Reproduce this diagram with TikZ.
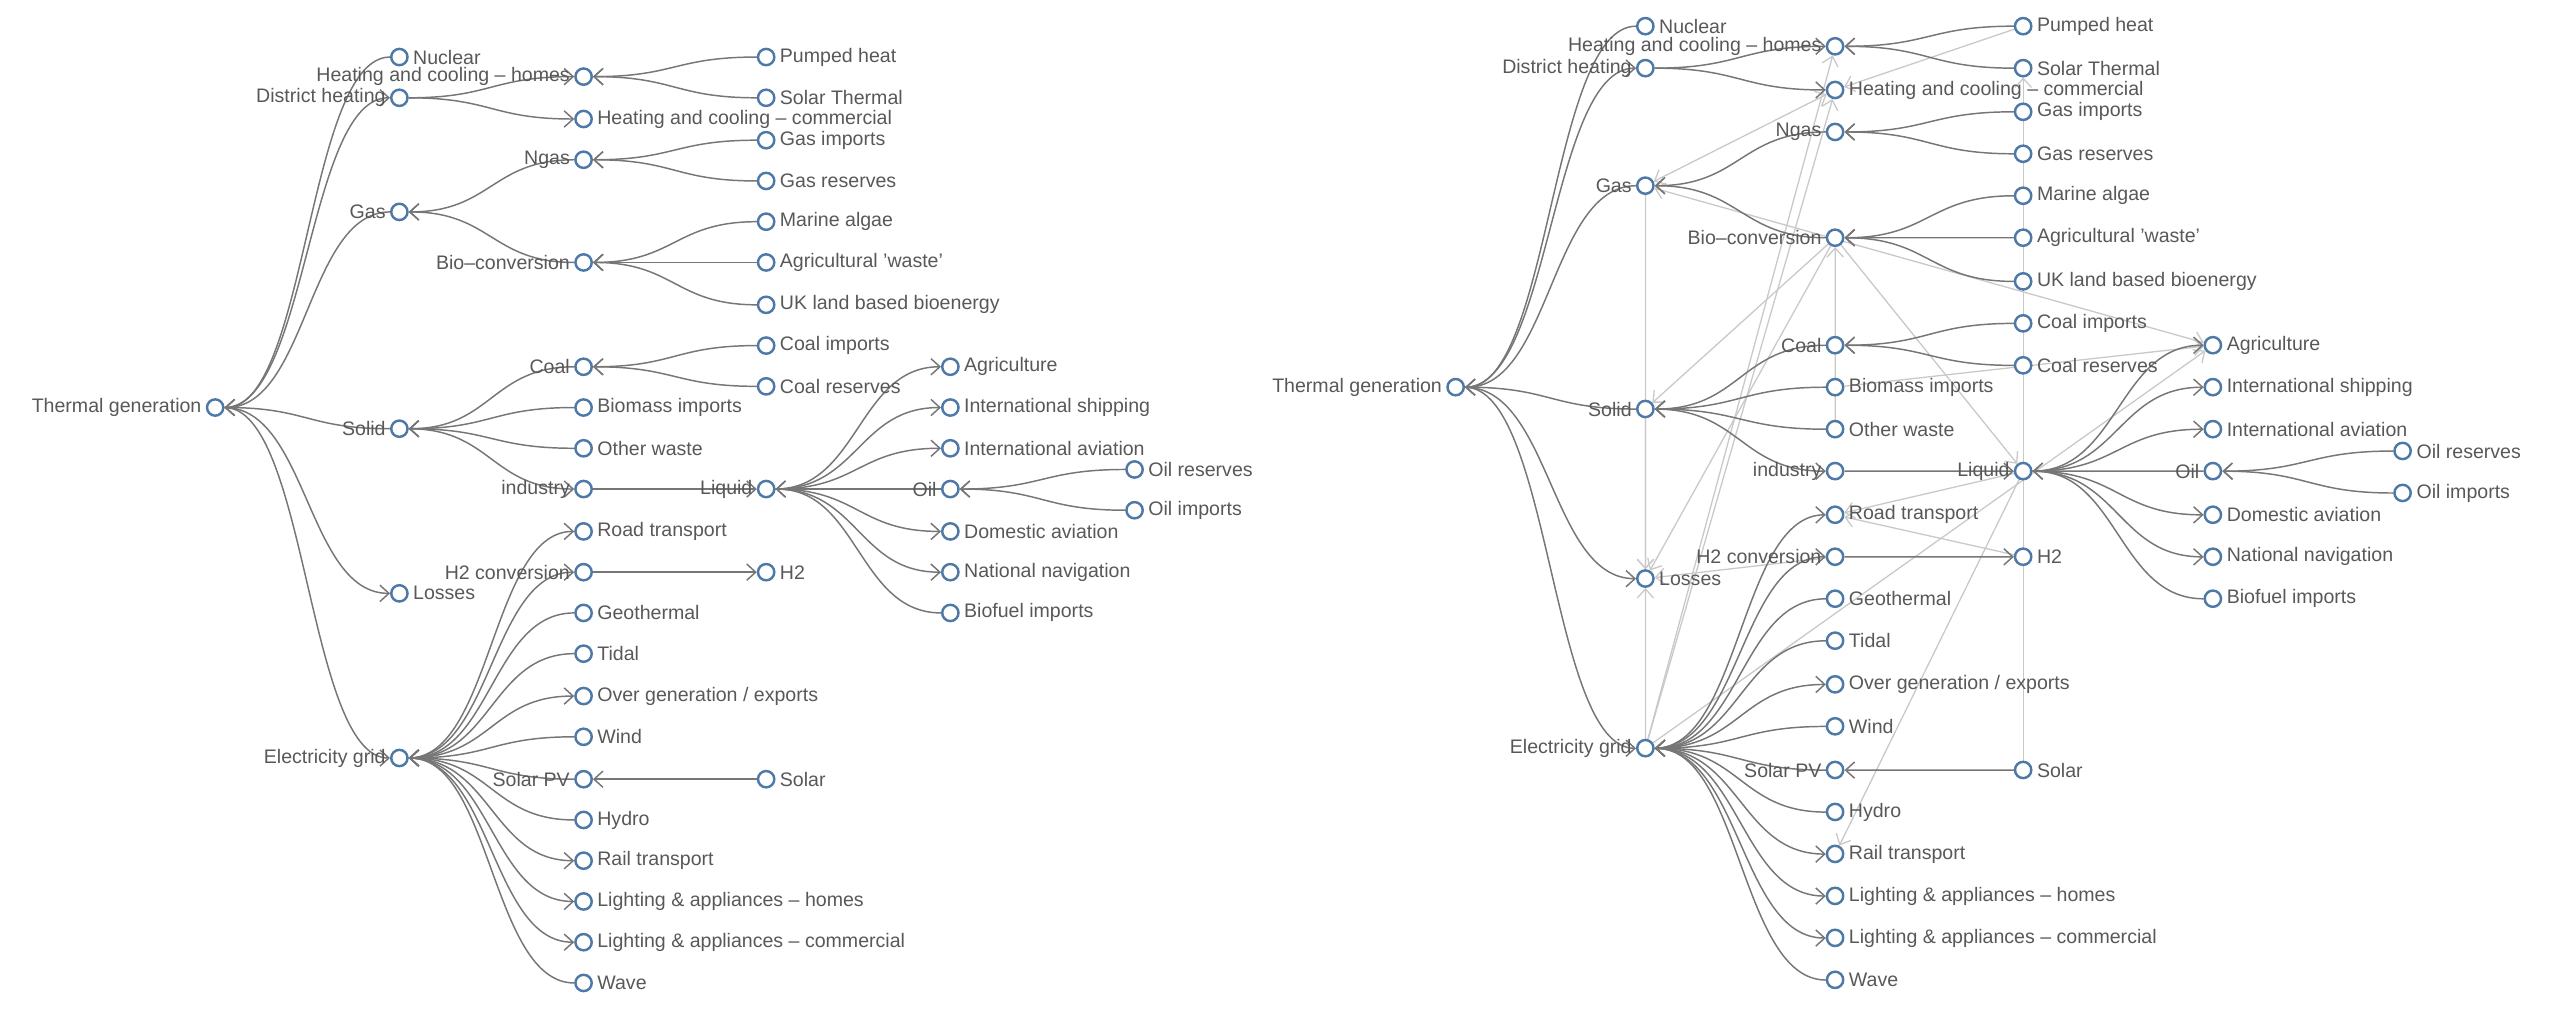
\documentclass[tikz,border=0pt]{standalone}
\usepackage{fontspec}
\setmainfont{Liberation Sans}
\usepackage{xcolor}
\definecolor{NODECOLOR}{HTML}{4E79A7}
\definecolor{LINKCOLOR}{HTML}{767676}
\definecolor{CROSSCOLOR}{HTML}{C9C9C9}
\definecolor{TEXTCOLOR}{HTML}{585858}
\usepackage{tikz}
\usetikzlibrary{arrows.meta,calc,backgrounds}
\pgfdeclarelayer{cross}
\pgfsetlayers{cross,background,main}
\tikzset{
  node-style/.style = {
    circle, draw=NODECOLOR, line width=1.5pt,
    fill=white,
    minimum size=10pt,
    inner sep=0pt
  },
  label-style/.style = {
    text=TEXTCOLOR, font=\fontsize{12}{14}\selectfont, inner sep=2.5pt
  },
  link-style/.style = {
    draw=LINKCOLOR, line width=0.9pt, ->
  },
  cross-style/.style = {
    draw=CROSSCOLOR, line width=0.8pt, ->
  },
  both-style/.style = {
    cross-style, <->
  },
  >={Straight Barb[length=5.5pt,width=10pt]}
}
\def\createNode name:#1 display:#2 side:#3 at:#4;{
  \node [node-style, label={[label-style]#3:{#2}}] (#1) at (#4) {};
}
\def\createLink from:#1 to:#2;{
  \coordinate (mid) at ($(#1)!0.5!(#2)$);
  \draw [link-style] (#1) .. controls (mid |- #1) and (mid |- #2) .. (#2);
}
\def\createCross style:#1 from:#2 to:#3;{
  \draw [#1] (#2) -- (#3);
}
\newcommand\makeTree{
  \createNode name:thermal display:{Thermal generation} side:left at:132,250;
  \createNode name:nuclear display:{Nuclear} side:right at:245,35;
  \createNode name:district display:{District heating} side:left at:245,60;
  \createNode name:gas display:{Gas} side:left at:245,130;
  \createNode name:solid display:{Solid} side:left at:245,263;
  \createNode name:losses display:{Losses} side:right at:245,364;
  \createNode name:grid display:{Electricity grid} side:left at:245,465;

  \createNode name:hchomes display:{Heating and cooling – homes} side:left at:358,47;
  \createNode name:hccomm display:{Heating and cooling – commercial} side:right at:358,73;
  \createNode name:ngas display:{Ngas} side:left at:358,98;
  \createNode name:bio display:{Bio–conversion} side:left at:358,161;
  \createNode name:coal display:{Coal} side:left at:358,225;
  \createNode name:biomass display:{Biomass imports} side:right at:358,250;
  \createNode name:otherwaste display:{Other waste} side:right at:358,275;
  \createNode name:industry display:{industry} side:left at:358,300;
  \createNode name:road display:{Road transport} side:right at:358,326;
  \createNode name:hconv display:{H2 conversion} side:left at:358,351;
  \createNode name:geothermal display:{Geothermal} side:right at:358,376;
  \createNode name:tidal display:{Tidal} side:right at:358,401;
  \createNode name:overgen display:{Over generation / exports} side:right at:358,427;
  \createNode name:wind display:{Wind} side:right at:358,452;
  \createNode name:solarpv display:{Solar PV} side:left at:358,478;
  \createNode name:hydro display:{Hydro} side:right at:358,503;
  \createNode name:rail display:{Rail transport} side:right at:358,528;
  \createNode name:lahomes display:{Lighting \& appliances – homes} side:right at:358,553;
  \createNode name:lacomm display:{Lighting \& appliances – commercial} side:right at:358,578;
  \createNode name:wave display:{Wave} side:right at:358,603;

  \createNode name:pumped display:{Pumped heat} side:right at:470,35;
  \createNode name:solarthermal display:{Solar Thermal} side:right at:470,60;
  \createNode name:gasimports display:{Gas imports} side:right at:470,86;
  \createNode name:gasreserves display:{Gas reserves} side:right at:470,111;
  \createNode name:algae display:{Marine algae} side:right at:470,136;
  \createNode name:agwaste display:{Agricultural 'waste'} side:right at:470,161;
  \createNode name:ukland display:{UK land based bioenergy} side:right at:470,187;
  \createNode name:coalimports display:{Coal imports} side:right at:470,212;
  \createNode name:coalreserves display:{Coal reserves} side:right at:470,237;
  \createNode name:liquid display:{Liquid} side:left at:470,300;
  \createNode name:htwo display:{H2} side:right at:470,351;
  \createNode name:solar display:{Solar} side:right at:470,478;

  \createNode name:agriculture display:{Agriculture} side:right at:583,225;
  \createNode name:shipping display:{International shipping} side:right at:583,250;
  \createNode name:aviation display:{International aviation} side:right at:583,275;
  \createNode name:oil display:{Oil} side:left at:583,300;
  \createNode name:domestic display:{Domestic aviation} side:right at:583,326;
  \createNode name:navigation display:{National navigation} side:right at:583,351;
  \createNode name:biofuel display:{Biofuel imports} side:right at:583,376;

  \createNode name:oilreserves display:{Oil reserves} side:right at:696,288;
  \createNode name:oilimports display:{Oil imports} side:right at:696,313;

  \begin{pgfonlayer}{background}
    \createLink from:nuclear to:thermal;
    \createLink from:thermal to:district;
    \createLink from:gas to:thermal;
    \createLink from:solid to:thermal;
    \createLink from:thermal to:losses;
    \createLink from:thermal to:grid;
    \createLink from:district to:hchomes;
    \createLink from:district to:hccomm;
    \createLink from:pumped to:hchomes;
    \createLink from:solarthermal to:hchomes;
    \createLink from:ngas to:gas;
    \createLink from:bio to:gas;
    \createLink from:gasimports to:ngas;
    \createLink from:gasreserves to:ngas;
    \createLink from:algae to:bio;
    \createLink from:agwaste to:bio;
    \createLink from:ukland to:bio;
    \createLink from:coal to:solid;
    \createLink from:biomass to:solid;
    \createLink from:otherwaste to:solid;
    \createLink from:solid to:industry;
    \createLink from:coalimports to:coal;
    \createLink from:coalreserves to:coal;
    \createLink from:industry to:liquid;
    \createLink from:liquid to:agriculture;
    \createLink from:liquid to:shipping;
    \createLink from:liquid to:aviation;
    \createLink from:oil to:liquid;
    \createLink from:liquid to:domestic;
    \createLink from:liquid to:navigation;
    \createLink from:biofuel to:liquid;
    \createLink from:oilreserves to:oil;
    \createLink from:oilimports to:oil;
    \createLink from:grid to:road;
    \createLink from:grid to:hconv;
    \createLink from:geothermal to:grid;
    \createLink from:tidal to:grid;
    \createLink from:grid to:overgen;
    \createLink from:wind to:grid;
    \createLink from:solarpv to:grid;
    \createLink from:hydro to:grid;
    \createLink from:grid to:rail;
    \createLink from:grid to:lahomes;
    \createLink from:grid to:lacomm;
    \createLink from:wave to:grid;
    \createLink from:hconv to:htwo;
    \createLink from:solar to:solarpv;
  \end{pgfonlayer}
}

\begin{document}
\begin{tikzpicture}[x=1pt, y=-1pt]
  \useasboundingbox (0,0) rectangle (1568,626);

  \begin{scope}[name prefix=l-]
    \makeTree
  \end{scope}

  \begin{scope}[name prefix=r-, shift={(757,-20)}, scale=1.03]
    \makeTree
    \begin{pgfonlayer}{cross}
      \createCross style:both-style from:gas to:hccomm;
      \createCross style:both-style from:gas to:agriculture;
      \createCross style:cross-style from:pumped to:hccomm;
      \createCross style:cross-style from:solar to:solarthermal;
      \createCross style:cross-style from:grid to:hchomes;
      \createCross style:cross-style from:grid to:hccomm;
      \createCross style:cross-style from:bio to:solid;
      \createCross style:cross-style from:bio to:losses;
      \createCross style:cross-style from:bio to:liquid;
      \createCross style:cross-style from:gas to:losses;
      \createCross style:cross-style from:solid to:losses;
      \createCross style:cross-style from:grid to:losses;
      \createCross style:cross-style from:hconv to:losses;
      \createCross style:cross-style from:otherwaste to:bio;
      \createCross style:cross-style from:biomass to:agriculture;
      \createCross style:cross-style from:liquid to:road;
      \createCross style:cross-style from:htwo to:road;
      \createCross style:cross-style from:liquid to:rail;
      \createCross style:cross-style from:grid to:agriculture;
    \end{pgfonlayer}
  \end{scope}
\end{tikzpicture}
\end{document}
